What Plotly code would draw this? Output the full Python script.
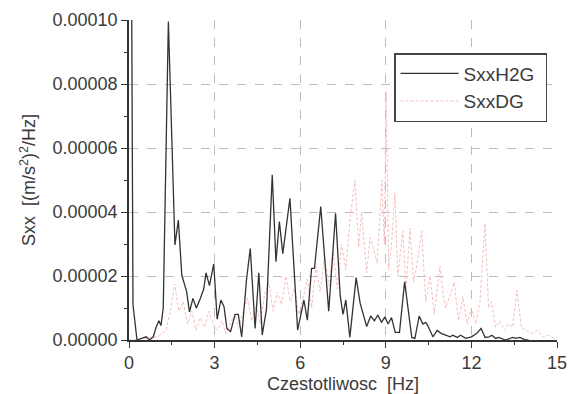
import plotly.graph_objects as go

# SxxH2G (black) – vertices, values in 1e-5 (m/s^2)^2/Hz
h2g_freq = [0.00, 0.14, 0.28, 0.45, 0.60, 0.72, 0.85, 0.95, 1.05, 1.12, 1.20, 1.38,
            1.61, 1.73, 1.85, 2.02, 2.12, 2.24, 2.36, 2.50, 2.62, 2.70, 2.82, 2.97,
            3.09, 3.22, 3.33, 3.43, 3.56, 3.72, 3.83, 3.95, 4.12, 4.25, 4.42, 4.55,
            4.67, 4.82, 5.02, 5.15, 5.27, 5.39, 5.64, 5.91, 6.13, 6.25, 6.40, 6.50,
            6.72, 7.00, 7.24, 7.40, 7.50, 7.60, 7.74, 7.96, 8.10, 8.33, 8.47, 8.60,
            8.72, 8.85, 8.97, 9.08, 9.20, 9.33, 9.48, 9.66, 9.91, 10.02, 10.17, 10.30,
            10.40, 10.47, 10.65, 10.80, 10.95, 11.10, 11.25, 11.35, 11.50, 11.62, 11.80,
            12.00, 12.18, 12.34, 12.48, 12.62, 12.72, 12.85, 12.95, 13.20, 13.45, 13.55,
            13.70, 13.90, 14.00]
h2g_val = [30.0, 1.1, 0.0, 0.05, 0.1, 0.0, 0.1, 0.4, 0.6, 0.45, 1.0, 9.95,
           2.97, 3.75, 2.03, 1.51, 0.88, 1.3, 1.0, 1.3, 1.6, 2.1, 1.7, 2.38,
           0.65, 1.25, 1.04, 0.36, 0.26, 0.8, 0.8, 0.1, 1.9, 2.86, 0.36, 2.1,
           0.16, 0.97, 5.16, 2.45, 3.7, 2.7, 4.43, 0.31, 1.25, 0.62, 2.24, 2.24,
           4.17, 0.9, 3.96, 1.4, 0.8, 1.25, 0.08, 1.95, 1.15, 0.42, 0.75, 0.6,
           0.78, 0.55, 0.72, 0.5, 0.7, 0.24, 0.24, 1.82, 0.08, 0.05, 0.75, 0.5,
           0.55, 0.45, 0.1, 0.3, 0.2, 0.15, 0.1, 0.15, 0.08, 0.15, 0.05,
           0.1, 0.2, 0.36, 0.08, 0.1, 0.15, 0.05, 0.08, 0.0, 0.08, 0.05,
           0.08, 0.0, 0.0]

# SxxDG (light red)
dg_freq = [0.0, 0.5, 1.0, 1.3, 1.45, 1.6, 1.75, 1.9, 2.05, 2.2, 2.35, 2.5, 2.65, 2.8,
           2.95, 3.1, 3.25, 3.4, 3.55, 3.7, 3.85, 4.0, 4.15, 4.3, 4.45, 4.6, 4.75,
           4.9, 5.05, 5.2, 5.35, 5.5, 5.65, 5.8, 5.95, 6.1, 6.25, 6.4, 6.55, 6.7,
           6.85, 7.0, 7.15, 7.3, 7.45, 7.6, 7.75, 7.92, 8.05, 8.15, 8.33, 8.45,
           8.56, 8.7, 8.86, 8.95, 9.01, 9.1, 9.2, 9.32, 9.42, 9.6, 9.7, 9.85, 9.97,
           10.1, 10.26, 10.4, 10.55, 10.7, 10.9, 11.0, 11.1, 11.25, 11.4, 11.55,
           11.7, 11.85, 12.0, 12.15, 12.3, 12.48, 12.6, 12.7, 12.85, 13.0, 13.15,
           13.3, 13.45, 13.59, 13.75, 13.9, 14.1, 14.3, 14.5, 14.7, 14.9]
dg_val = [0.0, 0.05, 0.1, 0.3, 0.9, 1.75, 0.9, 1.2, 0.5, 0.9, 0.3, 0.7, 0.4, 0.9,
          0.5, 0.3, 0.6, 0.2, 0.5, 0.8, 0.4, 0.9, 1.3, 0.6, 1.1, 0.5, 1.4,
          1.8, 0.9, 1.5, 1.1, 2.0, 1.2, 1.6, 0.8, 1.3, 1.9, 1.0, 2.3, 1.5,
          2.6, 1.7, 2.8, 1.6, 3.0, 2.2, 3.8, 5.0, 2.9, 4.0, 2.1, 3.2,
          2.9, 2.4, 5.0, 3.0, 7.76, 2.2, 3.0, 4.6, 2.0, 3.4, 1.5, 3.5, 1.8,
          2.4, 3.4, 1.2, 2.0, 0.8, 2.3, 1.5, 1.0, 1.4, 1.8, 0.6,
          1.35, 0.5, 1.0, 0.5, 1.2, 3.65, 1.0, 1.2, 0.4, 0.6, 0.3,
          0.5, 0.4, 1.56, 0.4, 0.3, 0.2, 0.3, 0.1, 0.15, 0.05]

x_tickvals = [0, 3, 6, 9, 12, 15]
y_tickvals = [0.0, 0.00002, 0.00004, 0.00006, 0.00008, 0.00010]
x_gridvals = [3, 6, 9, 12]
y_gridvals = [0.00002, 0.00004, 0.00006, 0.00008]

scale = 1e-5
NB = "\u00a0"
fig = go.Figure()
fig.add_trace(go.Scatter(
    x=dg_freq, y=[v * scale for v in dg_val], mode="lines", name="SxxDG" + NB * 3,
    line=dict(color="#f5b5b5", width=0.9, dash="3px,2px")))
fig.add_trace(go.Scatter(
    x=h2g_freq, y=[v * scale for v in h2g_val], mode="lines", name="SxxH2G" + NB * 1,
    line=dict(color="#333333", width=1.3)))
fig.add_trace(go.Scatter(x=[None], y=[None], xaxis="x2", yaxis="y2", showlegend=False,
                         hoverinfo="skip"))

font = "Liberation Sans, Arial, sans-serif"
fig.update_layout(
    width=570, height=394,
    margin=dict(l=129, r=13, t=20, b=54),
    paper_bgcolor="white", plot_bgcolor="white",
    font=dict(family=font, size=18, color="#3a3a3a"),
    legend=dict(x=(394 - 129) / 428, y=(340 - 53) / 320, xanchor="left", yanchor="top",
                traceorder="reversed", bordercolor="#444444", borderwidth=1.5,
                bgcolor="white", font=dict(size=19, color="#3a3a3a"),
                tracegroupgap=0, itemwidth=58),
    showlegend=True,
    xaxis=dict(
        range=[0, 15], tickvals=x_tickvals, ticktext=[str(v) for v in x_tickvals],
        showline=True, linecolor="#333333", linewidth=1.5,
        ticks="outside", ticklen=6, tickwidth=1.3, tickcolor="#333333",
        minor=dict(dtick=1.5, ticks="outside", ticklen=3, tickcolor="#333333", showgrid=False),
        showgrid=False, zeroline=False, automargin=False, ticklabeloverflow="allow",
        tickfont=dict(size=18),
        title=dict(text="Czestotliwosc  [Hz]", standoff=6, font=dict(size=18)),
    ),
    yaxis=dict(
        range=[0, 0.00010], tickvals=y_tickvals, tickformat=".5f",
        showline=True, linecolor="#333333", linewidth=1.5,
        ticks="outside", ticklen=6, tickwidth=1.3, tickcolor="#333333",
        minor=dict(dtick=0.00001, ticks="outside", ticklen=3, tickcolor="#333333", showgrid=False),
        showgrid=False, zeroline=False, automargin=False, ticklabeloverflow="allow",
        tickfont=dict(size=18),
        title=dict(text="Sxx  [(m/s<sup>2</sup>)<sup>2</sup>/Hz]", standoff=12, font=dict(size=18)),
    ),
    # overlay axes used only to draw the inner dashed grid (no grid at the frame edges)
    xaxis2=dict(overlaying="x", range=[0, 15], tickvals=x_gridvals, showticklabels=False,
                ticks="", showgrid=True, gridcolor="#bdbdbd", griddash="dash", gridwidth=1,
                showline=False, zeroline=False, automargin=False),
    yaxis2=dict(overlaying="y", range=[0, 0.00010], tickvals=y_gridvals, showticklabels=False,
                ticks="", showgrid=True, gridcolor="#bdbdbd", griddash="dash", gridwidth=1,
                showline=False, zeroline=False, automargin=False),
)

fig.write_html(
    "out.html",
    config={"displayModeBar": False},
    post_script="document.body.style.margin='0';document.body.style.overflow='hidden';",
)
